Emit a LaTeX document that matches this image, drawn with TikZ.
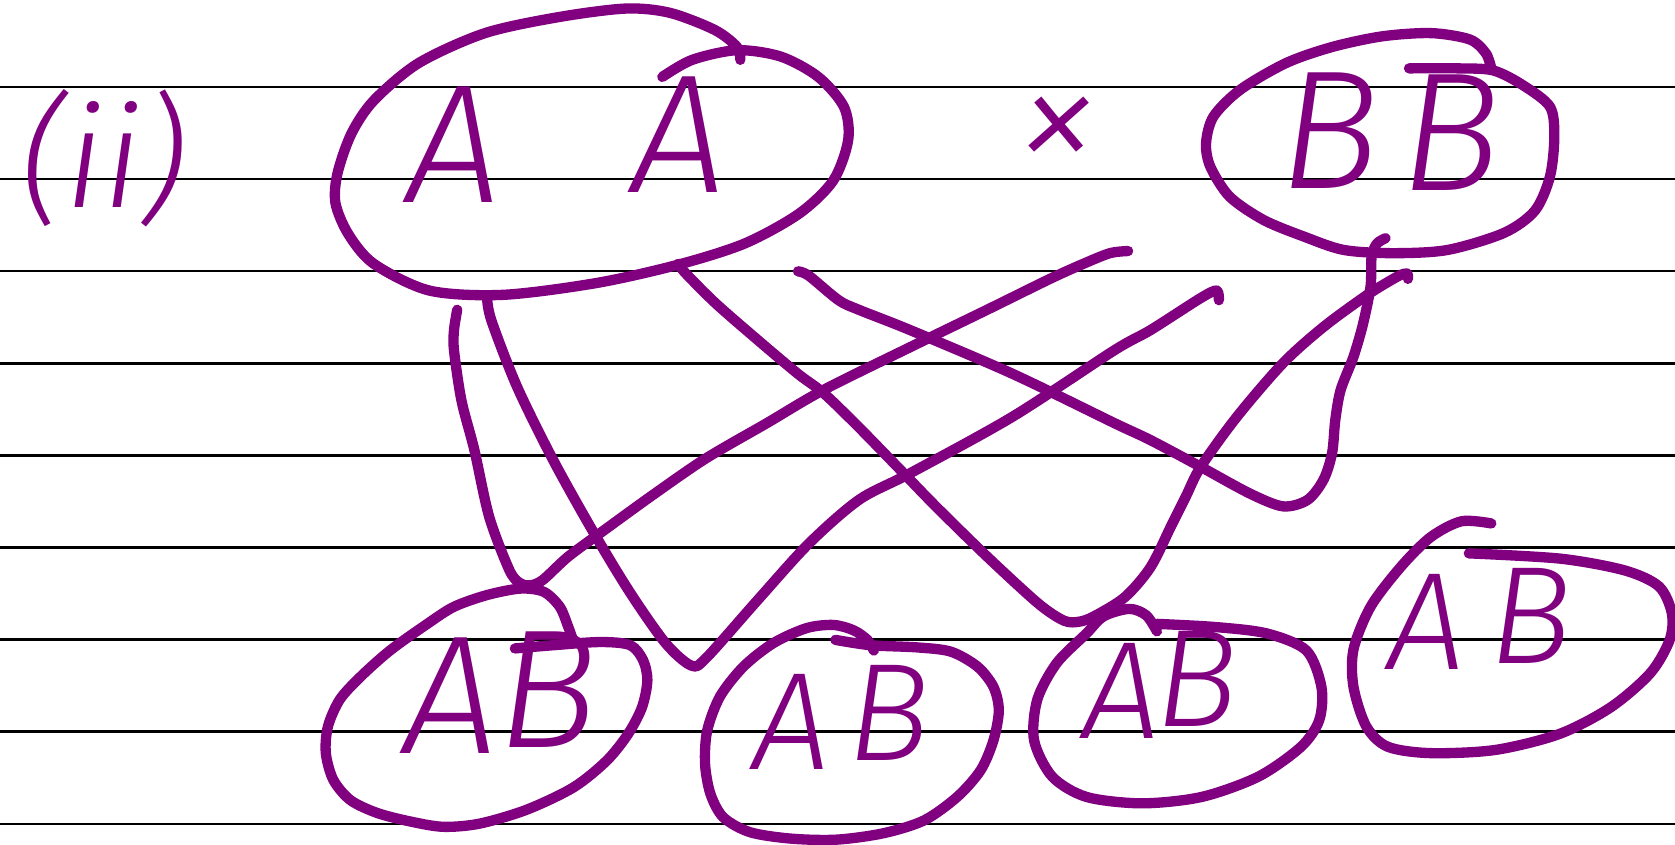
\documentclass[tikz,border=0pt]{standalone}
\usepackage{fontspec}
\usepackage{tikz}
\newif\iffoundhand
\newcommand\tryhand[1]{\iffoundhand\else\IfFontExistsTF{#1}{\newfontfamily\handfont{#1}\foundhandtrue}{}\fi}
\tryhand{Fira Sans Light Italic}
\tryhand{Poppins Light Italic}
\tryhand{Noto Sans Light Italic}
\tryhand{Fira Sans ExtraLight Italic}
\iffoundhand\else\newfontfamily\handfont{Fira Sans}[UprightFont=*-Italic]\fi
\definecolor{ink}{HTML}{800080}
\definecolor{ruleink}{HTML}{000000}
\tikzset{
  pen/.style={draw=ink, line width=5.5pt, line cap=round, line join=round},
  ruling/.style={draw=ruleink, line width=1.3pt},
  letter/.style={font=\handfont\fontsize{90}{90}\selectfont, text=ink, inner sep=0pt, anchor=base},
  smallletter/.style={letter, font=\handfont\fontsize{74}{74}\selectfont},
}

\begin{document}
\begin{tikzpicture}[x=0.02cm, y=-0.02cm]
  \useasboundingbox (0,0) rectangle (1568,791);

  % notebook lines
  \foreach \k in {0,...,8}
    \draw[ruling] (0,{81.5+86.2*\k}) -- (1568,{81.5+86.2*\k});

  % part label
  \node[letter, font=\handfont\fontsize{75}{75}\selectfont, anchor=center] (part) at (97,148) {(ii)};

  % parents
  \node[letter] (pa1) at (425,190) {A};
  \node[letter] (pa2) at (636,180) {A};
  \node[letter, anchor=center] (cross) at (990,128) {×};
  \node[letter] (pb1) at (1245,176) {B};
  \node[letter] (pb2) at (1358,178) {B};

  \draw[pen] plot[smooth] coordinates {(620,72) (648,56) (690,47) (731,53) (766,72) (790,100) (794,131) (780,169) (748,200) (697,228) (634,248) (558,265) (471,276) (402,272) (350,247) (326,219) (314,190) (316,162) (329,125) (350,94) (392,59) (454,31) (523,16) (586,8) (627,12) (669,28) (690,44) (693,56)};
  \draw[pen] plot[smooth] coordinates {(1319,64) (1365,64) (1398,66) (1426,80) (1451,100) (1455,128) (1451,165) (1437,197) (1408,218) (1355,234) (1304,237) (1258,234) (1222,222) (1183,206) (1151,184) (1133,156) (1129,134) (1136,109) (1161,84) (1204,59) (1247,44) (1294,34) (1340,31) (1376,37) (1391,50) (1396,64)};

  % offspring
  \node[letter] (ab1a) at (422,705) {A};
  \node[letter] (ab1b) at (513,700) {B};
  \node[smallletter] (ab2a) at (741,720) {A};
  \node[smallletter] (ab2b) at (832,712) {B};
  \node[smallletter] (ab3a) at (1050,691) {A};
  \node[smallletter] (ab3b) at (1120,680) {B};
  \node[smallletter] (ab4a) at (1335,627) {A};
  \node[smallletter] (ab4b) at (1433,621) {B};

  \draw[pen] plot[smooth] coordinates {(482,607) (518,604) (562,601) (590,604) (602,618) (606,637) (601,662) (588,687) (568,712) (537,737) (493,758) (449,771) (415,774) (384,769) (353,761) (328,749) (312,730) (305,705) (307,680) (318,655) (337,634) (365,609) (400,584) (425,568) (456,557) (487,551) (509,554) (524,568) (532,587) (537,601)};
  \draw[pen] plot[smooth] coordinates {(782,599) (815,604) (858,606) (890,610) (915,624) (930,643) (935,665) (930,693) (918,721) (896,746) (865,768) (827,780) (783,786) (740,785) (702,779) (677,765) (665,743) (660,715) (662,684) (674,652) (696,624) (724,602) (755,588) (780,585) (799,590) (812,599) (818,609)};
  \draw[pen] plot[smooth] coordinates {(1083,584) (1138,587) (1186,593) (1223,609) (1237,643) (1235,674) (1218,699) (1178,727) (1125,746) (1069,752) (1017,746) (985,727) (968,693) (971,655) (989,621) (1017,593) (1033,577) (1057,570) (1073,576) (1083,591)};
  \draw[pen] plot[smooth] coordinates {(1375,518) (1461,523) (1521,534) (1553,549) (1565,574) (1563,599) (1545,630) (1508,662) (1460,687) (1400,702) (1339,705) (1299,699) (1279,680) (1267,643) (1267,608) (1283,568) (1311,531) (1339,503) (1368,488) (1396,490)};

  % crossing lines
  \draw[pen] plot[smooth] coordinates {(428,290) (425,309) (425,328) (432,375) (444,421) (458,484) (477,534) (487,546) (496,548) (508,543) (532,521) (566,496) (613,462) (661,429) (718,396) (771,365) (852,325) (924,290) (983,261) (1014,247) (1039,237) (1056,235)};
  \draw[pen] plot[smooth] coordinates {(456,279) (460,300) (484,362) (518,431) (556,499) (590,555) (623,602) (647,623) (661,616) (709,562) (757,509) (804,468) (852,443) (948,390) (1043,328) (1077,309) (1124,279) (1139,272) (1141,281)};
  \draw[pen] plot[smooth] coordinates {(635,247) (642,256) (670,284) (709,318) (747,350) (771,368) (804,400) (843,440) (876,474) (924,521) (972,565) (996,581) (1010,582) (1024,577) (1053,559) (1077,531) (1096,493) (1110,465) (1124,437) (1158,390) (1201,340) (1239,306) (1280,276) (1308,259) (1317,256) (1318,261)};
  \draw[pen] plot[smooth] coordinates {(747,254) (757,258) (785,281) (804,290) (852,309) (948,350) (1043,396) (1077,412) (1124,437) (1170,462) (1201,474) (1224,468) (1239,449) (1247,424) (1250,393) (1255,365) (1267,334) (1276,303) (1283,268) (1284,240) (1289,228) (1297,223)};
\end{tikzpicture}
\end{document}
